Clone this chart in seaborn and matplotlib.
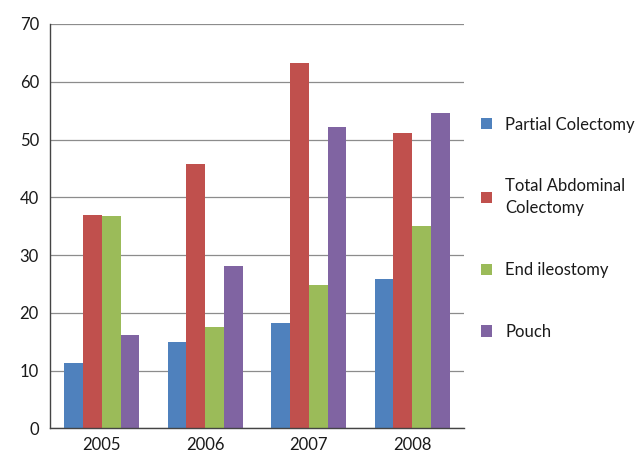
import matplotlib
matplotlib.use("Agg")
import matplotlib.pyplot as plt
import seaborn as sns
import pandas as pd
from matplotlib.ticker import MultipleLocator, FixedLocator

years = ["2005", "2006", "2007", "2008"]
partial_colectomy = [11.3, 15.0, 18.2, 25.9]
total_abdominal_colectomy = [37.0, 45.8, 63.2, 51.2]
end_ileostomy = [36.8, 17.6, 24.8, 35.1]
pouch = [16.1, 28.1, 52.2, 54.6]
series_names = ["Partial Colectomy", "Total Abdominal\nColectomy", "End ileostomy", "Pouch"]
colors = ["#4F81BD", "#C0504D", "#9BBB59", "#8064A2"]

rows = []
for name, vals in zip(series_names, [partial_colectomy, total_abdominal_colectomy, end_ileostomy, pouch]):
    for y, v in zip(years, vals):
        rows.append({"Year": y, "Series": name, "Value": v})
df = pd.DataFrame(rows)

sns.set_style("white")
plt.rcParams["font.family"] = ["Lato", "DejaVu Sans"]
plt.rcParams["text.color"] = "#1a1a1a"
plt.rcParams["xtick.color"] = "#1a1a1a"
plt.rcParams["ytick.color"] = "#1a1a1a"

fig = plt.figure(figsize=(6.44, 4.61), dpi=100)
ax = fig.add_axes([50/644, 1-428.3/461, (464-50)/644, (428.3-24)/461])

sns.barplot(data=df, x="Year", y="Value", hue="Series", palette=colors,
            saturation=1, width=0.725, linewidth=0, ax=ax, legend=True, errorbar=None)

ax.set_ylim(0, 70)
ax.set_xlim(-0.5, 3.5)
ax.yaxis.set_major_locator(MultipleLocator(10))
ax.grid(axis="y", color="#8c8c8c", linewidth=0.9)
ax.set_axisbelow(True)
ax.set_xlabel("")
ax.set_ylabel("")
for s in ["top", "right"]:
    ax.spines[s].set_visible(False)
for s in ["left", "bottom"]:
    ax.spines[s].set_color("#444444")
    ax.spines[s].set_linewidth(1.0)

ax.tick_params(axis="y", which="major", length=5, width=1, color="#444444", labelsize=12, pad=3)
ax.tick_params(axis="x", which="major", length=0, labelsize=12, pad=6)
ax.xaxis.set_minor_locator(FixedLocator([-0.5, 0.5, 1.5, 2.5, 3.5]))
ax.tick_params(axis="x", which="minor", length=5, width=1, color="#444444", direction="out")

handles, labels = ax.get_legend_handles_labels()
ax.legend_.remove()
leg = fig.legend(handles, labels, loc="center left", bbox_to_anchor=(466/644, 0.505),
                 frameon=False, fontsize=12, labelspacing=2.75, handlelength=0.65,
                 handleheight=0.65, handletextpad=0.8)
for t in leg.get_texts():
    t.set_linespacing(1.45)

fig.savefig("out.png", dpi=100)
